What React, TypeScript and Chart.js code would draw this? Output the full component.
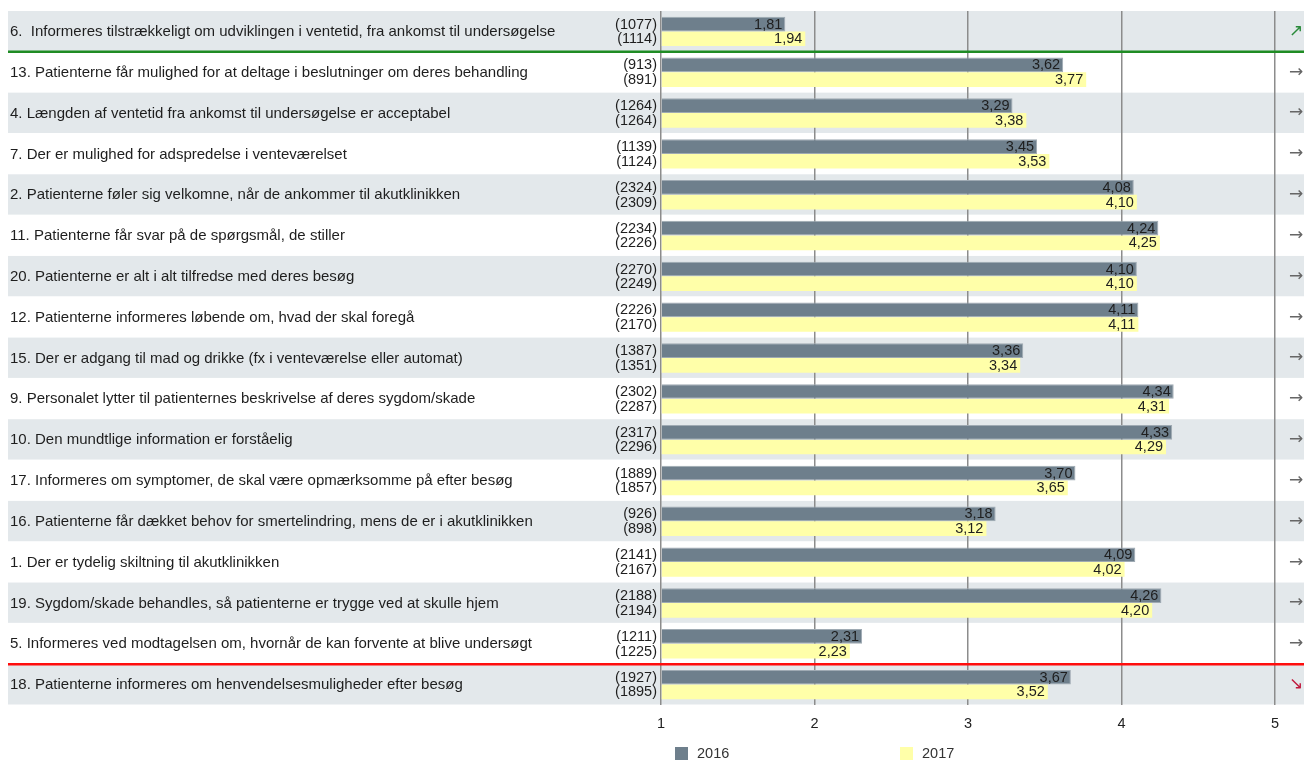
import React, { useEffect, useRef } from "react";
import { Chart, registerables } from "chart.js";

Chart.register(...registerables);

// Survey questions, in display order (top to bottom)
const questions = [
  "6.  Informeres tilstrækkeligt om udviklingen i ventetid, fra ankomst til undersøgelse",
  "13. Patienterne får mulighed for at deltage i beslutninger om deres behandling",
  "4. Længden af ventetid fra ankomst til undersøgelse er acceptabel",
  "7. Der er mulighed for adspredelse i venteværelset",
  "2. Patienterne føler sig velkomne, når de ankommer til akutklinikken",
  "11. Patienterne får svar på de spørgsmål, de stiller",
  "20. Patienterne er alt i alt tilfredse med deres besøg",
  "12. Patienterne informeres løbende om, hvad der skal foregå",
  "15. Der er adgang til mad og drikke (fx i venteværelse eller automat)",
  "9. Personalet lytter til patienternes beskrivelse af deres sygdom/skade",
  "10. Den mundtlige information er forståelig",
  "17. Informeres om symptomer, de skal være opmærksomme på efter besøg",
  "16. Patienterne får dækket behov for smertelindring, mens de er i akutklinikken",
  "1. Der er tydelig skiltning til akutklinikken",
  "19. Sygdom/skade behandles, så patienterne er trygge ved at skulle hjem",
  "5. Informeres ved modtagelsen om, hvornår de kan forvente at blive undersøgt",
  "18. Patienterne informeres om henvendelsesmuligheder efter besøg",
];

const years = ["2016", "2017"];

const scores2016 = [1.81, 3.62, 3.29, 3.45, 4.08, 4.24, 4.1, 4.11, 3.36, 4.34, 4.33, 3.7, 3.18, 4.09, 4.26, 2.31, 3.67];
const scores2017 = [1.94, 3.77, 3.38, 3.53, 4.1, 4.25, 4.1, 4.11, 3.34, 4.31, 4.29, 3.65, 3.12, 4.02, 4.2, 2.23, 3.52];

const counts2016 = [1077, 913, 1264, 1139, 2324, 2234, 2270, 2226, 1387, 2302, 2317, 1889, 926, 2141, 2188, 1211, 1927];
const counts2017 = [1114, 891, 1264, 1124, 2309, 2226, 2249, 2170, 1351, 2287, 2296, 1857, 898, 2167, 2194, 1225, 1895];

// Development from 2016 to 2017
const trends = ["up", "flat", "flat", "flat", "flat", "flat", "flat", "flat", "flat", "flat", "flat", "flat", "flat", "flat", "flat", "flat", "down"];

const xTicks = [1, 2, 3, 4, 5];

const FONT = '"Liberation Sans", Arial, Helvetica, sans-serif';
const COLORS = ["#6e7f8c", "#ffffa9"];
const BAND = "#e3e8eb";

const fmt = (v: number) => v.toFixed(2).replace(".", ",");

const arrowFor: Record<string, { ch: string; color: string }> = {
  up: { ch: "↗", color: "#2a8a3a" },
  flat: { ch: "→", color: "#666666" },
  down: { ch: "↘", color: "#c0183c" },
};

const rowsPlugin = {
  id: "rowsPlugin",
  beforeDraw(chart: any) {
    const { ctx, chartArea, scales } = chart;
    const yScale = scales.y;
    const step = (chartArea.bottom - chartArea.top) / questions.length;
    ctx.save();
    ctx.fillStyle = BAND;
    questions.forEach((_, i) => {
      if (i % 2 !== 0) return;
      const c = yScale.getPixelForValue(i);
      ctx.fillRect(8, c - step / 2, chart.width - 8, step - 0.5);
    });
    ctx.restore();
  },
  afterDatasetsDraw(chart: any) {
    const { ctx, chartArea, scales } = chart;
    const yScale = scales.y;
    const step = (chartArea.bottom - chartArea.top) / questions.length;
    ctx.save();

    // value labels at the end of each bar
    ctx.font = `14.5px ${FONT}`;
    ctx.fillStyle = "#1e1e1e";
    ctx.textAlign = "right";
    ctx.textBaseline = "middle";
    [scores2016, scores2017].forEach((arr, d) => {
      const meta = chart.getDatasetMeta(d);
      meta.data.forEach((bar: any, i: number) => {
        ctx.fillText(fmt(arr[i]), bar.x - 3, bar.y + 0.5);
      });
    });

    // divider lines around significant changes
    const lastUp = trends.lastIndexOf("up");
    const firstDown = trends.indexOf("down");
    if (lastUp >= 0) {
      const y = yScale.getPixelForValue(lastUp) + step / 2;
      ctx.strokeStyle = "#1f8c24";
      ctx.lineWidth = 2.6;
      ctx.beginPath();
      ctx.moveTo(8, y);
      ctx.lineTo(chart.width, y);
      ctx.stroke();
    }
    if (firstDown >= 0) {
      const y = yScale.getPixelForValue(firstDown) - step / 2;
      ctx.strokeStyle = "#ff0d0d";
      ctx.lineWidth = 2.6;
      ctx.beginPath();
      ctx.moveTo(8, y);
      ctx.lineTo(chart.width, y);
      ctx.stroke();
    }
    ctx.restore();
  },
  afterDraw(chart: any) {
    const { ctx, chartArea, scales } = chart;
    const yScale = scales.y;
    ctx.save();
    ctx.textBaseline = "middle";

    // question texts
    ctx.font = `15px ${FONT}`;
    ctx.fillStyle = "#1e1e1e";
    ctx.textAlign = "left";
    questions.forEach((q, i) => {
      ctx.fillText(q, 10, yScale.getPixelForValue(i) + 0.5);
    });

    // respondent counts next to each bar
    ctx.textAlign = "right";
    ctx.font = `14.5px ${FONT}`;
    [counts2016, counts2017].forEach((arr, d) => {
      const meta = chart.getDatasetMeta(d);
      meta.data.forEach((bar: any, i: number) => {
        ctx.fillText(`(${arr[i]})`, chartArea.left - 4, bar.y + 0.5);
      });
    });

    // trend arrows
    ctx.textAlign = "left";
    ctx.font = `17px "DejaVu Sans", sans-serif`;
    trends.forEach((t, i) => {
      const a = arrowFor[t];
      ctx.fillStyle = a.color;
      ctx.fillText(a.ch, chartArea.right + 14, yScale.getPixelForValue(i));
    });

    // legend
    ctx.font = `14.5px ${FONT}`;
    const legendY = 754;
    const offsets = [14, 239];
    chart.data.datasets.forEach((ds: any, d: number) => {
      const x = chartArea.left + offsets[d];
      ctx.fillStyle = ds.backgroundColor;
      ctx.fillRect(x, legendY - 7, 13, 13);
      ctx.fillStyle = "#333333";
      ctx.fillText(ds.label, x + 22, legendY);
    });

    ctx.restore();
  },
};

export default function App() {
  const canvasRef = useRef<HTMLCanvasElement | null>(null);

  useEffect(() => {
    const canvas = canvasRef.current;
    if (!canvas) return;
    const chart = new Chart(canvas, {
      type: "bar",
      data: {
        labels: questions,
        datasets: [
          {
            label: years[0],
            data: scores2016,
            backgroundColor: COLORS[0],
            borderColor: "#9faab3",
            borderWidth: 1,
            base: 1,
            categoryPercentage: 0.72,
            barPercentage: 1,
          },
          {
            label: years[1],
            data: scores2017,
            backgroundColor: COLORS[1],
            borderWidth: 0,
            base: 1,
            categoryPercentage: 0.72,
            barPercentage: 1,
          },
        ],
      },
      options: {
        indexAxis: "y",
        responsive: false,
        animation: false,
        devicePixelRatio: 1,
        layout: { padding: { left: 661, right: 29, top: 11, bottom: 0 } },
        scales: {
          x: {
            type: "linear",
            position: "bottom",
            min: 1,
            max: 5,
            grid: { color: "#8c8c8c", lineWidth: 1.5, drawTicks: false },
            border: { display: false },
            ticks: {
              padding: 10,
              color: "#222222",
              font: { family: FONT, size: 14.5 },
              callback: (v: any) => String(v),
            },
            afterBuildTicks: (s: any) => {
              s.ticks = xTicks.map((v) => ({ value: v }));
            },
            afterFit: (s: any) => {
              s.height = 55;
            },
          },
          y: {
            type: "category",
            display: false,
            offset: true,
          },
        },
        plugins: {
          legend: { display: false },
          tooltip: { enabled: false },
        },
      },
      plugins: [rowsPlugin],
    } as any);
    return () => chart.destroy();
  }, []);

  return (
    <div style={{ position: "absolute", left: 0, top: 0, width: 1304, height: 760, background: "#ffffff" }}>
      <canvas ref={canvasRef} width={1304} height={760} />
    </div>
  );
}
